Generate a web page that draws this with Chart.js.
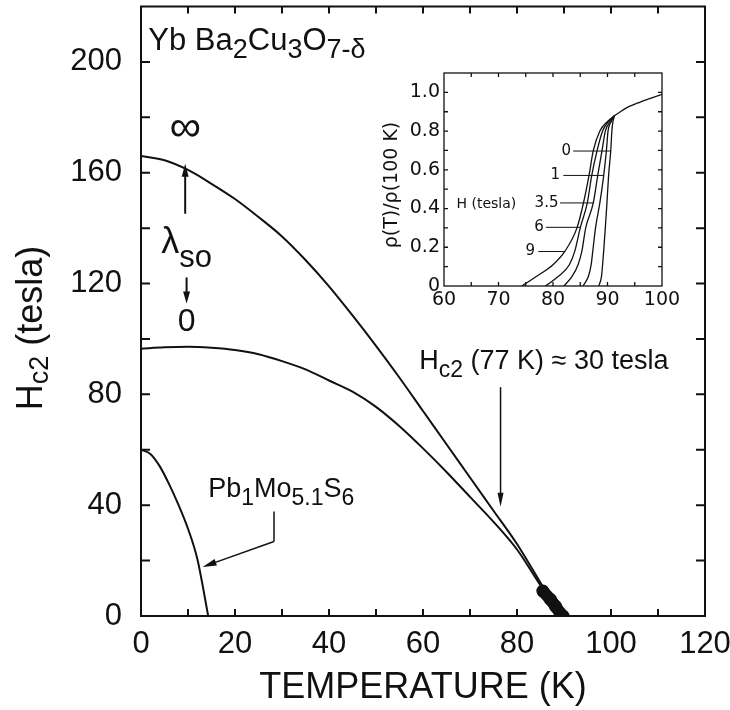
<!DOCTYPE html>
<html><head><meta charset="utf-8">
<script src="https://cdn.jsdelivr.net/npm/chart.js@4.4.0/dist/chart.umd.min.js"></script>
<style>
html,body{margin:0;padding:0;background:#fff;}
#wrap{position:relative;width:730px;height:710px;background:#fff;}
#main{position:absolute;left:0;top:0;}
#inset{position:absolute;left:370px;top:60px;}
</style></head><body>
<div id="wrap"><canvas id="main" width="730" height="710"></canvas><canvas id="inset" width="312" height="260"></canvas></div>
<script>
// ---- main panel data: Hc2 (tesla) vs temperature (K) ----
const tempInf  = [0, 5, 10, 15, 20, 25, 30, 35, 40, 45, 50, 55, 60, 65, 70, 75, 80, 85, 88, 89.5];
const hc2Inf   = [166, 164.5, 161, 156, 150.5, 144, 137, 128.5, 119, 108.5, 97.5, 86, 74, 62, 50, 38, 26, 12, 3.5, 0];
const tempZero = [0, 5, 10, 15, 20, 25, 30, 35, 40, 45, 50, 55, 60, 65, 70, 75, 80, 85, 88, 89.5];
const hc2Zero  = [96.5, 97, 97.2, 96.8, 96, 94.5, 92, 89, 85, 81, 75.5, 68.5, 60.5, 52, 43, 34, 24, 11, 3.5, 0];
const tempPb   = [0, 2, 4, 6, 8, 10, 12, 14.3];
const hc2Pb    = [60, 58.5, 54, 47.5, 40, 31.5, 20.5, 0];
const tcTemp   = [89.8, 89.2, 88.2, 87.1, 85.5];
const tcField  = [0, 1, 3.5, 6, 9];
const xTickLabels = [0, 20, 40, 60, 80, 100, 120];
const yTickLabels = [0, 40, 80, 120, 160, 200];

// ---- inset data: rho(T)/rho(100 K) vs T for fields 0,1,3.5,6,9 tesla ----
const rhoLevels = [0, 0.05, 0.11, 0.18, 0.30, 0.43, 0.57, 0.70, 0.80, 0.85, 0.88];
const tempH9  = [74.3, 77, 80, 82.2, 84.4, 85.6, 86.6, 87.4, 88.6, 90, 91.3];
const tempH6  = [78.6, 81, 83, 84, 85, 86.3, 87.1, 88.1, 89.1, 90.2, 91.3];
const tempH35 = [82, 83.5, 84.6, 85.3, 86.0, 87.4, 88.2, 89.0, 89.6, 90.5, 91.3];
const tempH1  = [85.5, 86.5, 87, 87.3, 87.8, 88.6, 89.3, 89.8, 90.1, 90.7, 91.3];
const tempH0  = [88.4, 88.9, 89.1, 89.3, 89.6, 89.9, 90.2, 90.6, 90.8, 91.0, 91.3];
const tempNormal = [91.3, 93.5, 96, 98, 100];
const rhoNormal  = [0.88, 0.92, 0.95, 0.97, 0.99];
const fieldLabels = ['0', '1', '3.5', '6', '9'];
const insetXLabels = [60, 70, 80, 90, 100];
const insetYLabels = [0, 0.2, 0.4, 0.6, 0.8, 1.0];

const INK = '#111';
const SANS = 'Liberation Sans, Arial, sans-serif';
const DJ = 'DejaVu Sans, sans-serif';

function pts(xs, ys) { return xs.map((x, i) => ({x: x, y: ys[i]})); }
function lineDs(xs, ys, w) {
  return {data: pts(xs, ys), borderColor: INK, borderWidth: w, pointRadius: 0,
          cubicInterpolationMode: 'monotone', fill: false};
}
function rich(ctx, x, y, parts, base, sub, fam, drop) {
  let cx = x;
  ctx.textAlign = 'left'; ctx.textBaseline = 'alphabetic';
  for (const p of parts) {
    ctx.font = (p.s ? sub : base) + 'px ' + fam;
    ctx.fillText(p.t, cx, y + (p.s ? drop : 0));
    cx += ctx.measureText(p.t).width;
  }
  return cx - x;
}
function arrow(ctx, x1, y1, x2, y2, hl, hw) {
  const a = Math.atan2(y2 - y1, x2 - x1);
  ctx.beginPath(); ctx.moveTo(x1, y1); ctx.lineTo(x2 - Math.cos(a) * hl * 0.6, y2 - Math.sin(a) * hl * 0.6); ctx.stroke();
  ctx.beginPath();
  ctx.moveTo(x2, y2);
  ctx.lineTo(x2 - Math.cos(a) * hl + Math.sin(a) * hw / 2, y2 - Math.sin(a) * hl - Math.cos(a) * hw / 2);
  ctx.lineTo(x2 - Math.cos(a) * hl - Math.sin(a) * hw / 2, y2 - Math.sin(a) * hl + Math.cos(a) * hw / 2);
  ctx.closePath(); ctx.fill();
}
function frameAndTicks(chart, xStep, yStep, xLen, yLen, lw) {
  const ctx = chart.ctx, ca = chart.chartArea, xs = chart.scales.x, ys = chart.scales.y;
  ctx.save();
  ctx.strokeStyle = INK; ctx.lineWidth = lw;
  ctx.strokeRect(ca.left, ca.top, ca.right - ca.left, ca.bottom - ca.top);
  ctx.beginPath();
  for (let v = xs.min + xStep; v < xs.max - 1e-6; v += xStep) {
    const px = xs.getPixelForValue(v);
    ctx.moveTo(px, ca.bottom); ctx.lineTo(px, ca.bottom - xLen);
    ctx.moveTo(px, ca.top); ctx.lineTo(px, ca.top + xLen);
  }
  for (let v = ys.min + yStep; v < ys.max - 1e-6; v += yStep) {
    const py = ys.getPixelForValue(v);
    ctx.moveTo(ca.left, py); ctx.lineTo(ca.left + yLen, py);
    ctx.moveTo(ca.right, py); ctx.lineTo(ca.right - yLen, py);
  }
  ctx.stroke();
  ctx.restore();
}
function fixX(h) { return s => { s.height = h; s.paddingLeft = 0; s.paddingRight = 0; }; }
function fixY(w) { return s => { s.width = w; s.paddingTop = 0; s.paddingBottom = 0; }; }
function setTicks(vals) { return s => { s.ticks = vals.map(v => ({value: v})); }; }

const mainDecor = {
  id: 'mainDecor',
  afterDraw(chart) {
    const ctx = chart.ctx, xs = chart.scales.x, ys = chart.scales.y;
    const X = v => xs.getPixelForValue(v), Y = v => ys.getPixelForValue(v);
    frameAndTicks(chart, 10, 20, 7, 9, 2);
    ctx.save();
    ctx.fillStyle = INK; ctx.strokeStyle = INK;
    // y-axis title  H_c2 (tesla)
    ctx.save();
    ctx.translate(42, 328);
    ctx.rotate(-Math.PI / 2);
    const parts = [{t: 'H', s: false}, {t: 'c2', s: true}, {t: ' (tesla)', s: false}];
    let w = 0;
    for (const p of parts) { ctx.font = (p.s ? 27 : 36) + 'px ' + SANS; w += ctx.measureText(p.t).width; }
    rich(ctx, -w / 2, 0, parts, 36, 27, SANS, 6);
    ctx.restore();
    // compound name
    rich(ctx, X(1.55), Y(204.4), [{t: 'Yb Ba', s: false}, {t: '2', s: true}, {t: 'Cu', s: false}, {t: '3', s: true}, {t: 'O', s: false}, {t: '7-\u03b4', s: true}], 31, 27, SANS, 8);
    // infinity and lambda_so
    ctx.font = '44px ' + SANS; ctx.textAlign = 'center'; ctx.textBaseline = 'middle';
    ctx.fillText('\u221e', X(9.4), Y(175.7));
    ctx.lineWidth = 2;
    arrow(ctx, X(9.4), Y(145.2), X(9.4), Y(163.2), 13, 7);
    rich(ctx, X(4.3), Y(131.1), [{t: '\u03bb', s: false}, {t: 'so', s: true}], 36, 31, SANS, 14);
    arrow(ctx, X(9.7), Y(122.2), X(9.7), Y(112.8), 12, 7);
    ctx.font = '32px ' + SANS; ctx.textAlign = 'center'; ctx.textBaseline = 'middle';
    ctx.fillText('0', X(9.7), Y(106));
    // Pb1Mo5.1S6
    rich(ctx, X(14.3), Y(43.1), [{t: 'Pb', s: false}, {t: '1', s: true}, {t: 'Mo', s: false}, {t: '5.1', s: true}, {t: 'S', s: false}, {t: '6', s: true}], 27, 23, SANS, 8);
    ctx.lineWidth = 1.5;
    ctx.beginPath(); ctx.moveTo(X(28.3), Y(37.7)); ctx.lineTo(X(28.3), Y(26.9)); ctx.stroke();
    arrow(ctx, X(28.3), Y(26.9), X(13.1), Y(17.7), 14, 7);
    // Hc2 (77 K) ~ 30 tesla
    rich(ctx, X(59.2), Y(89.3), [{t: 'H', s: false}, {t: 'c2', s: true}, {t: ' (77 K) \u2248 30 tesla', s: false}], 27, 23, SANS, 8);
    ctx.lineWidth = 1.5;
    arrow(ctx, X(76.5), Y(82.6), X(76.5), Y(39.4), 14, 6);
    ctx.restore();
  }
};

new Chart(document.getElementById('main'), {
  type: 'line',
  data: {datasets: [
    lineDs(tempInf, hc2Inf, 2),
    lineDs(tempZero, hc2Zero, 2),
    lineDs(tempPb, hc2Pb, 2),
    {data: pts(tcTemp, tcField), showLine: true, borderColor: INK, borderWidth: 12, borderCapStyle: 'round',
     pointRadius: 6.5, pointBackgroundColor: INK, pointBorderWidth: 0, fill: false}
  ]},
  options: {
    responsive: false, animation: false, devicePixelRatio: 1,
    layout: {padding: {top: 6, right: 25, left: 0, bottom: 0}},
    plugins: {legend: {display: false}, tooltip: {enabled: false}},
    scales: {
      x: {type: 'linear', min: 0, max: 120,
          grid: {display: false, drawTicks: false}, border: {display: false},
          ticks: {autoSkip: false, maxRotation: 0, padding: 10, color: INK,
                  font: {family: SANS, size: 31}},
          afterBuildTicks: setTicks(xTickLabels),
          title: {display: true, text: 'TEMPERATURE (K)', color: INK, font: {family: SANS, size: 36}, padding: {top: 0, bottom: 0}},
          afterFit: fixX(94)},
      y: {type: 'linear', min: 0, max: 220,
          grid: {display: false, drawTicks: false}, border: {display: false},
          ticks: {autoSkip: false, padding: 19, color: INK,
                  font: {family: SANS, size: 31}},
          afterBuildTicks: setTicks(yTickLabels),
          afterFit: fixY(141)}
    }
  },
  plugins: [mainDecor]
});

const insetDecor = {
  id: 'insetDecor',
  afterDraw(chart) {
    const ctx = chart.ctx, xs = chart.scales.x, ys = chart.scales.y;
    const X = v => xs.getPixelForValue(v), Y = v => ys.getPixelForValue(v);
    frameAndTicks(chart, 5, 0.1, 4, 4, 1.3);
    ctx.save();
    ctx.fillStyle = INK; ctx.strokeStyle = INK;
    // y title
    ctx.save();
    ctx.translate(22, 125);
    ctx.rotate(-Math.PI / 2);
    ctx.font = '19px ' + DJ; ctx.textAlign = 'center'; ctx.textBaseline = 'middle';
    ctx.fillText('\u03c1(T)/\u03c1(100 K)', 0, 0);
    ctx.restore();
    ctx.font = '14px ' + DJ; ctx.textAlign = 'left'; ctx.textBaseline = 'middle';
    ctx.fillText('H (tesla)', X(62.3), Y(0.42));
    const lab = [
      {rt: 83.3, r: 0.697, x1: 83.7, x2: 90.6},
      {rt: 81.3, r: 0.571, x1: 81.9, x2: 89.3},
      {rt: 81.0, r: 0.429, x1: 81.3, x2: 87.4},
      {rt: 78.3, r: 0.303, x1: 78.7, x2: 85.0},
      {rt: 76.7, r: 0.178, x1: 77.3, x2: 82.2}
    ];
    ctx.font = '15px ' + DJ; ctx.textAlign = 'right'; ctx.textBaseline = 'middle';
    ctx.lineWidth = 1;
    lab.forEach((l, i) => {
      ctx.fillText(fieldLabels[i], X(l.rt), Y(l.r));
      ctx.beginPath(); ctx.moveTo(X(l.x1), Y(l.r)); ctx.lineTo(X(l.x2), Y(l.r)); ctx.stroke();
    });
    ctx.restore();
  }
};

new Chart(document.getElementById('inset'), {
  type: 'line',
  data: {datasets: [
    lineDs(tempH9, rhoLevels, 1.3),
    lineDs(tempH6, rhoLevels, 1.3),
    lineDs(tempH35, rhoLevels, 1.3),
    lineDs(tempH1, rhoLevels, 1.3),
    lineDs(tempH0, rhoLevels, 1.3),
    lineDs(tempNormal, rhoNormal, 1.3)
  ]},
  options: {
    responsive: false, animation: false, devicePixelRatio: 1,
    layout: {padding: {top: 13, right: 20, left: 0, bottom: 0}},
    plugins: {legend: {display: false}, tooltip: {enabled: false}},
    scales: {
      x: {type: 'linear', min: 60, max: 100,
          grid: {display: false, drawTicks: false}, border: {display: false},
          ticks: {autoSkip: false, maxRotation: 0, padding: 3, color: INK,
                  font: {family: DJ, size: 19}},
          afterBuildTicks: setTicks(insetXLabels),
          afterFit: fixX(34)},
      y: {type: 'linear', min: 0, max: 1.1,
          grid: {display: false, drawTicks: false}, border: {display: false},
          ticks: {autoSkip: false, padding: 4, color: INK,
                  font: {family: DJ, size: 19},
                  callback: v => v === 0 ? '0' : v.toFixed(1)},
          afterBuildTicks: setTicks(insetYLabels),
          afterFit: fixY(74)}
    }
  },
  plugins: [insetDecor]
});
</script>
</body></html>
